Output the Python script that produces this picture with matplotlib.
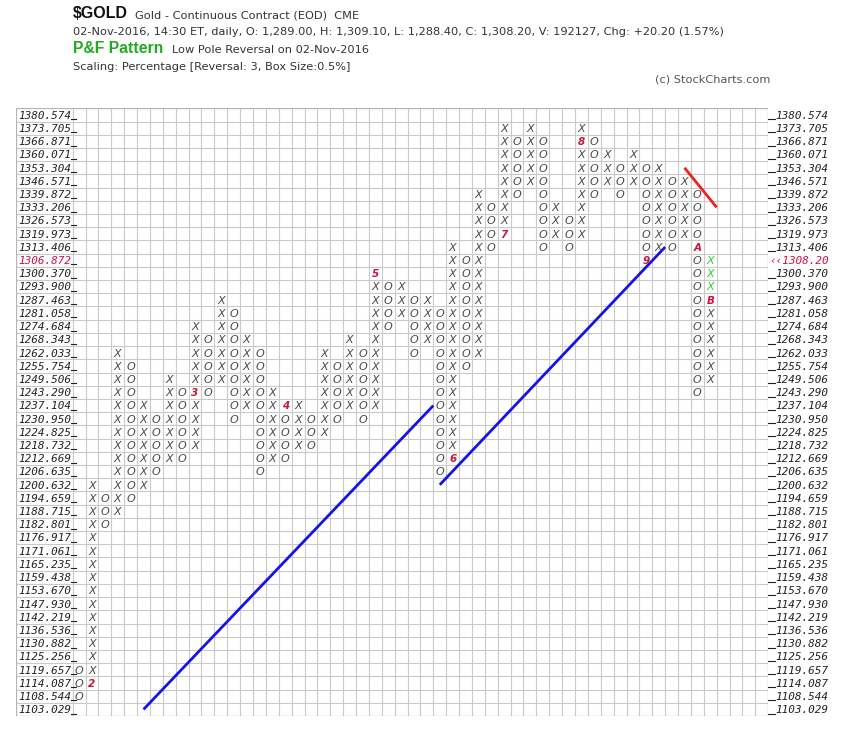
import matplotlib
matplotlib.use("Agg")
import matplotlib.pyplot as plt
import numpy as np

# ---------------- data ----------------
box_levels = [1380.574, 1373.705, 1366.871, 1360.071, 1353.304, 1346.571, 1339.872,
              1333.206, 1326.573, 1319.973, 1313.406, 1306.872, 1300.370, 1293.900,
              1287.463, 1281.058, 1274.684, 1268.343, 1262.033, 1255.754, 1249.506,
              1243.290, 1237.104, 1230.950, 1224.825, 1218.732, 1212.669, 1206.635,
              1200.632, 1194.659, 1188.715, 1182.801, 1176.917, 1171.061, 1165.235,
              1159.438, 1153.670, 1147.930, 1142.219, 1136.536, 1130.882, 1125.256,
              1119.657, 1114.087, 1108.544, 1103.029]

col_types = ["O", "X", "O", "X", "O", "X", "O", "X", "O", "X",
             "O", "X", "O", "X", "O", "X", "O", "X", "O", "X",
             "O", "X", "O", "X", "O", "X", "O", "X", "O", "X",
             "O", "X", "O", "X", "O", "X", "O", "X", "O", "X",
             "O", "X", "O", "X", "O", "X", "O", "X", "O", "X"]
col_high = [1119.657, 1200.632, 1194.659, 1262.033, 1255.754, 1237.104, 1230.950, 1249.506,
            1243.290, 1274.684, 1268.343, 1287.463, 1281.058, 1268.343, 1262.033, 1243.290,
            1237.104, 1237.104, 1230.950, 1262.033, 1255.754, 1268.343, 1262.033, 1300.370,
            1293.900, 1293.900, 1287.463, 1287.463, 1281.058, 1313.406, 1306.872, 1339.872,
            1333.206, 1373.705, 1366.871, 1373.705, 1366.871, 1333.206, 1326.573, 1373.705,
            1366.871, 1360.071, 1353.304, 1360.071, 1353.304, 1353.304, 1346.571, 1346.571,
            1339.872, 1306.872]
col_low = [1108.544, 1114.087, 1182.801, 1188.715, 1194.659, 1200.632, 1206.635, 1212.669,
           1212.669, 1218.732, 1243.290, 1249.506, 1230.950, 1237.104, 1206.635, 1212.669,
           1212.669, 1218.732, 1218.732, 1224.825, 1230.950, 1237.104, 1230.950, 1237.104,
           1274.684, 1281.058, 1262.033, 1268.343, 1206.635, 1212.669, 1255.754, 1262.033,
           1313.406, 1319.973, 1339.872, 1346.571, 1313.406, 1319.973, 1313.406, 1319.973,
           1339.872, 1346.571, 1339.872, 1346.571, 1306.872, 1313.406, 1313.406, 1319.973,
           1243.290, 1249.506]

month_labels = ["2", "3", "4", "5", "6", "7", "8", "9", "A", "B"]
month_cols = [1, 9, 16, 23, 29, 33, 39, 44, 48, 49]
month_boxes = [1114.087, 1243.290, 1237.104, 1300.370, 1212.669, 1319.973,
               1366.871, 1306.872, 1313.406, 1287.463]

today_col = 49
today_boxes = [1306.872, 1300.370, 1293.900]

last_close = 1308.20
last_close_box = 1306.872

# trend lines: (start column, start box, end column, end box, colour)
trend_lines = [(5.5, 1103.029, 28.0, 1237.104, "#1414e6"),
               (28.5, 1200.632, 46.0, 1313.406, "#1414e6"),
               (47.5, 1353.304, 50.0, 1333.206, "#ee2020")]

# ---------------- layout ----------------
W, H = 860, 729
fig = plt.figure(figsize=(W / 100, H / 100), dpi=100)

px_col0 = 72.7
px_colw = 12.88
px_left, px_right = 16.0, 768.2
px_top, px_bot = 108.3, 716.0
n_cols = 54
n_rows = len(box_levels)
x_left = (px_left - px_col0) / px_colw

ax = fig.add_axes([px_left / W, 1 - px_bot / H, (px_right - px_left) / W, (px_bot - px_top) / H])
ax.set_xlim(x_left, n_cols)
ax.set_ylim(n_rows, 0)
ax.axis("off")

levels = np.array(box_levels)


def row_of(p):
    return int(np.argmin(np.abs(levels - p)))


grid_c = "#c9c9c9"
for k in range(0, n_cols + 1):
    ax.plot([k, k], [0, n_rows], color=grid_c, lw=0.8, zorder=1)
for r in range(0, n_rows + 1):
    ax.plot([x_left, n_cols], [r, r], color=grid_c, lw=0.8, zorder=1)
ax.plot([x_left, x_left, n_cols, n_cols, x_left], [0, n_rows, n_rows, 0, 0],
        color="#b5b5b5", lw=0.9, zorder=1)

lab_font = dict(fontsize=7.9, fontstyle="italic", family="DejaVu Sans Mono")
for r, v in enumerate(box_levels):
    yb = r + 0.79
    c = "#cc1144" if v == last_close_box else "#222222"
    ax.text(-0.1, yb, f"{v:.3f}", ha="right", va="baseline", color=c, **lab_font)
    ax.plot([-0.15, 0.22], [r + 0.82, r + 0.82], color="#222222", lw=0.8, zorder=2)
    if v == last_close_box:
        ax.text(54.1, yb, f"\u2039\u2039{last_close:.2f}", ha="left", va="baseline",
                color="#cc1144", clip_on=False, **lab_font)
    else:
        ax.plot([54.0, 54.55], [r + 0.82, r + 0.82], color="#222222", lw=0.8,
                clip_on=False, zorder=2)
        ax.text(54.55, yb, f"{v:.3f}", ha="left", va="baseline", color="#222222",
                clip_on=False, **lab_font)

mark_font = dict(fontsize=8, fontstyle="italic", family="DejaVu Sans")
month_map = {(c, row_of(b)): m for c, b, m in zip(month_cols, month_boxes, month_labels)}
today_rows = {row_of(b) for b in today_boxes}
for k, (t, hi, lo) in enumerate(zip(col_types, col_high, col_low)):
    for r in range(row_of(hi), row_of(lo) + 1):
        if (k, r) in month_map:
            ax.text(k + 0.5, r + 0.79, month_map[(k, r)], ha="center", va="baseline",
                    color="#c8163f", fontsize=7.5, fontweight="bold", fontstyle="italic",
                    zorder=4)
            continue
        col = "#33cc33" if (k == today_col and r in today_rows) else "#4a4a4a"
        ax.text(k + 0.5, r + 0.79, t, ha="center", va="baseline", color=col,
                zorder=4, **mark_font)

for c0, b0, c1, b1, colr in trend_lines:
    ax.plot([c0, c1], [row_of(b0) + 0.5, row_of(b1) + 0.5], color=colr, lw=2.0,
            solid_capstyle="butt", zorder=3)

# ---------------- header ----------------
def ftext(x, y, s, family="DejaVu Sans", **kw):
    fig.text(x / W, 1 - y / H, s, va="baseline", parse_math=False,
             family=family, **kw)


ftext(73, 18.5, "$GOLD", family="Liberation Sans", fontsize=11.5, fontweight="bold",
      color="#111111")
ftext(135, 18.5, "Gold - Continuous Contract (EOD)  CME", fontsize=8.2, color="#333333")
ftext(73, 35, "02-Nov-2016, 14:30 ET, daily, O: 1,289.00, H: 1,309.10, L: 1,288.40, "
      "C: 1,308.20, V: 192127, Chg: +20.20 (1.57%)", fontsize=8.2, color="#333333")
ftext(73, 53, "P&F Pattern", family="Liberation Sans", fontsize=11.3, fontweight="bold",
      color="#22aa22")
ftext(172, 53, "Low Pole Reversal on 02-Nov-2016", fontsize=8.2, color="#333333")
ftext(73, 70.5, "Scaling: Percentage [Reversal: 3, Box Size:0.5%]", fontsize=8.2,
      color="#333333")
ftext(655, 82, "(c) StockCharts.com", fontsize=8.2, color="#555555")

fig.savefig("out.png", dpi=100, facecolor="white")
